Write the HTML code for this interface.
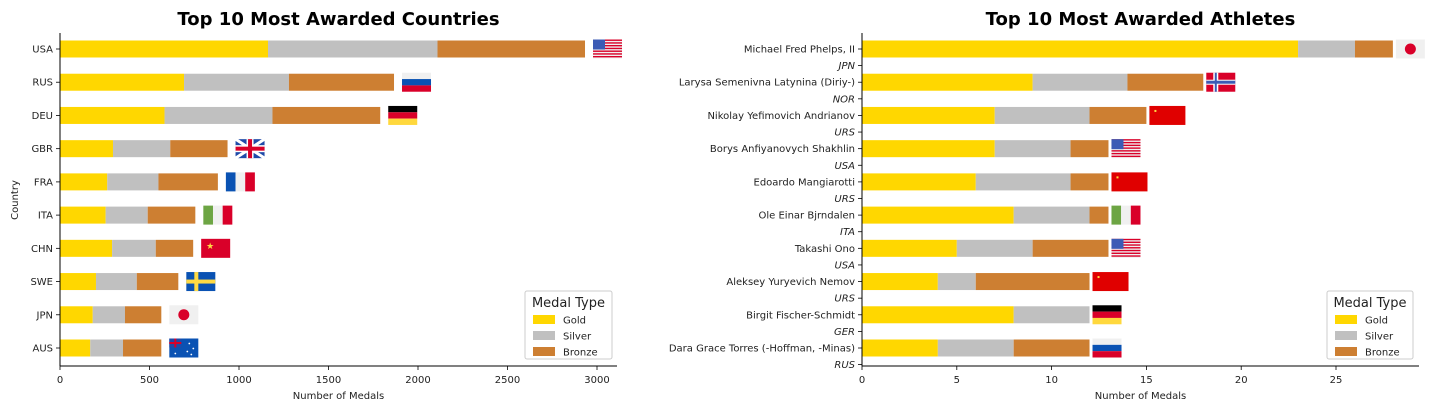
<!DOCTYPE html>
<html><head><meta charset="utf-8"><style>
html,body{margin:0;padding:0;background:#fff;}
svg{display:block;font-family:"DejaVu Sans","Liberation Sans",sans-serif;}
</style></head><body>
<svg id="c" width="1441" height="410" viewBox="0 0 1441 410" xmlns="http://www.w3.org/2000/svg"></svg>
<script>
const countries = ["USA","RUS","DEU","GBR","FRA","ITA","CHN","SWE","JPN","AUS"];
const countryGold = [1162,693,584,296,264,255,291,201,183,169];
const countrySilver = [947,586,603,320,286,235,244,228,180,183];
const countryBronze = [824,587,602,320,332,266,209,232,203,214];
const countryFlags = ["USA","RUS","DEU","GBR","FRA","ITA","CHN","SWE","JPN","AUS"];
const countryTicks = [0,500,1000,1500,2000,2500,3000];

const athletes = ["Michael Fred Phelps, II","Larysa Semenivna Latynina (Diriy-)","Nikolay Yefimovich Andrianov","Borys Anfiyanovych Shakhlin","Edoardo Mangiarotti","Ole Einar Bjrndalen","Takashi Ono","Aleksey Yuryevich Nemov","Birgit Fischer-Schmidt","Dara Grace Torres (-Hoffman, -Minas)"];
const athleteCodes = ["JPN","NOR","URS","USA","URS","ITA","USA","URS","GER","RUS"];
const athleteGold = [23,9,7,7,6,8,5,4,8,4];
const athleteSilver = [3,5,5,4,5,4,4,2,4,4];
const athleteBronze = [2,4,3,2,2,1,4,6,0,4];
const athleteFlags = ["JPN","NOR","RED","USA","RED","ITA","USA","RED","DEU","RUS"];
const athleteTicks = [0,5,10,15,20,25];

const NS="http://www.w3.org/2000/svg";
const svg=document.getElementById('c');
function el(tag,attrs,parent,text){const e=document.createElementNS(NS,tag);for(const k in attrs)e.setAttribute(k,attrs[k]);if(text!==undefined)e.textContent=text;(parent||svg).appendChild(e);return e;}

function drawFlag(g,code,x,yc){
  const w=(code==="RED")?36:29, h=19, y=yc-9.5;
  const f=el('g',{},g);
  
  
  const R='#d90029',B='#0a52b3',W='#f0f0f0';
  if(code==="USA"){
    el('rect',{x:x,y:y,width:w,height:h,fill:W},f);
    for(let i=0;i<7;i++)el('rect',{x:x,y:y+i*2.75,width:w,height:1.4,fill:R},f);
    el('rect',{x:x,y:y,width:12,height:10,fill:'#3c5bb5'},f);
  }else if(code==="RUS"){
    el('rect',{x:x,y:y,width:w,height:h/3,fill:W},f);el('rect',{x:x,y:y+h/3,width:w,height:h/3,fill:B},f);el('rect',{x:x,y:y+2*h/3,width:w,height:h/3,fill:R},f);
  }else if(code==="DEU"){
    el('rect',{x:x,y:y,width:w,height:h/3,fill:'#000'},f);el('rect',{x:x,y:y+h/3,width:w,height:h/3,fill:R},f);el('rect',{x:x,y:y+2*h/3,width:w,height:h/3,fill:'#ffd83d'},f);
  }else if(code==="GBR"){
    el('rect',{x:x,y:y,width:w,height:h,fill:'#1f4aa8'},f);
    el('line',{x1:x,y1:y,x2:x+w,y2:y+h,stroke:'#fff',"stroke-width":3},f);el('line',{x1:x+w,y1:y,x2:x,y2:y+h,stroke:'#fff',"stroke-width":3},f);
    el('rect',{x:x+w/2-3.5,y:y,width:7,height:h,fill:'#fff'},f);el('rect',{x:x,y:y+h/2-3.5,width:w,height:7,fill:'#fff'},f);
    el('rect',{x:x+w/2-2,y:y,width:4,height:h,fill:R},f);el('rect',{x:x,y:y+h/2-2,width:w,height:4,fill:R},f);
  }else if(code==="FRA"||code==="ITA"){
    el('rect',{x:x,y:y,width:w/3,height:h,fill:code==="FRA"?B:'#6da544'},f);el('rect',{x:x+w/3,y:y,width:w/3,height:h,fill:W},f);el('rect',{x:x+2*w/3,y:y,width:w/3,height:h,fill:R},f);
  }else if(code==="CHN"){
    el('rect',{x:x,y:y,width:w,height:h,fill:R},f);el('text',{x:x+5,y:y+10,fill:'#ffda44',"font-size":9},f,'★');
  }else if(code==="RED"){
    el('rect',{x:x,y:y,width:w,height:h,fill:'#e00000'},f);el('rect',{x:x+5,y:y+4,width:2,height:2,fill:'#ffda44'},f);
  }else if(code==="SWE"){
    el('rect',{x:x,y:y,width:w,height:h,fill:B},f);el('rect',{x:x+8,y:y,width:4,height:h,fill:'#ffda44'},f);el('rect',{x:x,y:y+h/2-2,width:w,height:4,fill:'#ffda44'},f);
  }else if(code==="NOR"){
    el('rect',{x:x,y:y,width:w,height:h,fill:R},f);el('rect',{x:x+7,y:y,width:5,height:h,fill:'#fff'},f);el('rect',{x:x,y:y+h/2-2.5,width:w,height:5,fill:'#fff'},f);
    el('rect',{x:x+8.5,y:y,width:2,height:h,fill:'#3c5bb5'},f);el('rect',{x:x,y:y+h/2-1.5,width:w,height:3,fill:'#3c5bb5'},f);
  }else if(code==="JPN"){
    el('rect',{x:x,y:y,width:w,height:h,fill:W},f);el('circle',{cx:x+w/2,cy:y+h/2,r:5.5,fill:R},f);
  }else if(code==="AUS"){
    el('rect',{x:x,y:y,width:w,height:h,fill:B},f);el('rect',{x:x,y:y,width:12,height:9,fill:'#1f4aa8'},f);
    el('rect',{x:x+5,y:y,width:2,height:9,fill:R},f);el('rect',{x:x,y:y+3.5,width:12,height:2,fill:R},f);
    [[20,5],[24,10],[18,13],[22,16],[6,15]].forEach(p=>el('circle',{cx:x+p[0],cy:y+p[1],r:0.9,fill:'#fff'},f));
  }
}

function chart(o){
  const g=el('g',{});
  
  
  const X=v=>o.x0+(v/o.span)*(o.x1tick-o.x0);
  const top=33,bottom=366,first=49,step=(348-49)/9,bh=17;
  const Y=i=>first+i*step;
  const cols=['#ffd700','#c0c0c0','#cd7f32'],names=['gold','silver','bronze'];
  o.labels.forEach((lab,i)=>{
    let acc=0;
    [o.g[i],o.s[i],o.b[i]].forEach((v,k)=>{
      if(v>0){const r=el('rect',{x:X(acc),y:Y(i)-bh/2,width:X(acc+v)-X(acc),height:bh,fill:cols[k]},g);
      
      }
      acc+=v;
    });
    drawFlag(g,o.flags[i],X(acc)+o.gap,Y(i));
    el('line',{x1:o.x0-4,y1:Y(i),x2:o.x0,y2:Y(i),stroke:'#000',"stroke-width":0.8},g);
    const t=el('text',{x:o.x0-7,y:Y(i)+3.5,"text-anchor":"end","font-size":10,fill:'#222'},g,lab);
    
    
    if(o.codes){
      el('line',{x1:o.x0-4,y1:Y(i)+step/2,x2:o.x0,y2:Y(i)+step/2,stroke:'#000',"stroke-width":0.8},g);
      const c=el('text',{x:o.x0-7,y:Y(i)+step/2+3.5,"text-anchor":"end","font-size":10,"font-style":"italic",fill:'#222'},g,o.codes[i]);
      
      
    }
  });
  el('line',{x1:o.x0,y1:top,x2:o.x0,y2:bottom,stroke:'#000',"stroke-width":1},g);
  el('line',{x1:o.x0,y1:bottom,x2:o.xend,y2:bottom,stroke:'#000',"stroke-width":1},g);
  o.ticks.forEach(t=>{
    el('line',{x1:X(t),y1:bottom,x2:X(t),y2:bottom+4,stroke:'#000',"stroke-width":0.8},g);
    const tl=el('text',{x:X(t),y:bottom+17,"text-anchor":"middle","font-size":10,fill:'#222'},g,String(t));
    
    
  });
  const xl=el('text',{x:(o.x0+o.xend)/2,y:399,"text-anchor":"middle","font-size":10,fill:'#222'},g,'Number of Medals');
  
  
  const ti=el('text',{x:(o.x0+o.xend)/2,y:25,"text-anchor":"middle","font-size":18,"font-weight":"bold",fill:'#000'},g,o.title);
  
  
  // legend
  const lg=el('g',{},g);
  
  
  const lx=o.legX,ly=291,lw=o.legW;
  el('rect',{x:lx,y:ly,width:lw,height:68,fill:'#fff',stroke:'#ccc',rx:2},lg);
  el('text',{x:lx+lw/2,y:ly+16,"text-anchor":"middle","font-size":13,fill:'#222'},lg,'Medal Type');
  ['Gold','Silver','Bronze'].forEach((n,k)=>{
    const yy=ly+24+k*16;
    const sw=el('rect',{x:lx+8,y:yy,width:22,height:9,fill:cols[k]},lg);
    
    
    el('text',{x:lx+38,y:yy+8.5,"font-size":10,fill:'#222'},lg,n);
  });
}

chart({name:'countries-chart',labels:countries,g:countryGold,s:countrySilver,b:countryBronze,flags:countryFlags,ticks:countryTicks,
  x0:60,x1tick:597,span:3000,xend:617,gap:8,title:'Top 10 Most Awarded Countries',legX:525,legW:87});
chart({name:'athletes-chart',labels:athletes,codes:athleteCodes,g:athleteGold,s:athleteSilver,b:athleteBronze,flags:athleteFlags,ticks:athleteTicks,
  x0:862,x1tick:1336,span:25,xend:1419,gap:3,title:'Top 10 Most Awarded Athletes',legX:1327,legW:86});

const yl=el('text',{x:18,y:200,"text-anchor":"middle","font-size":10,fill:'#222',transform:'rotate(-90 18 200)'},svg,'Country');


</script>
</body></html>
